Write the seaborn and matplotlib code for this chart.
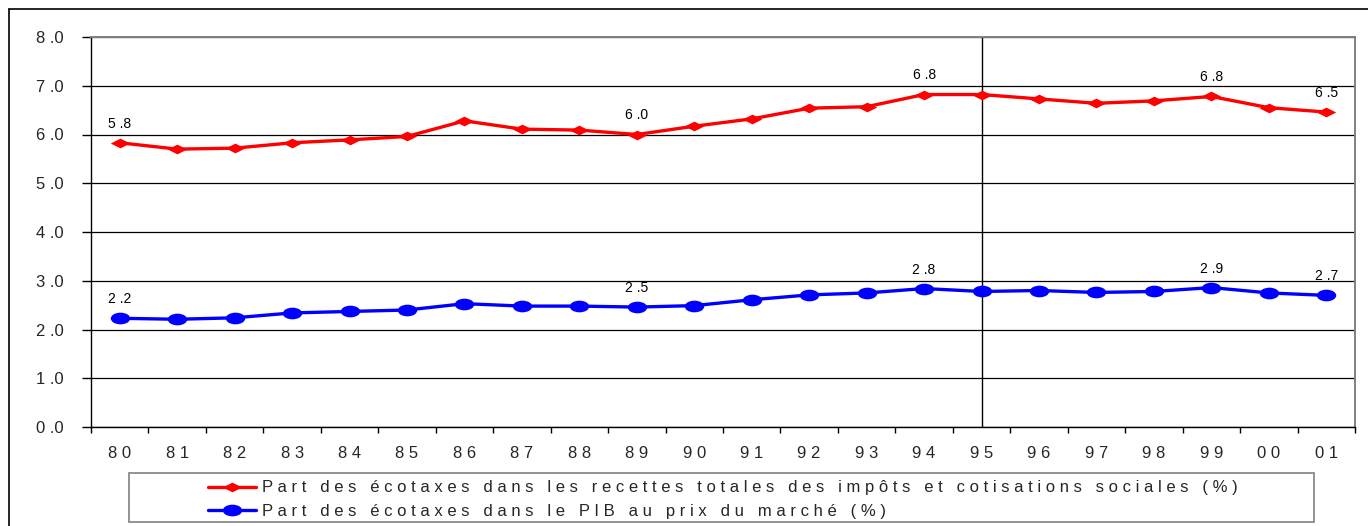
import numpy as np
import pandas as pd
import matplotlib
matplotlib.use("Agg")
import matplotlib.pyplot as plt
from matplotlib.path import Path
from matplotlib.transforms import Affine2D
from matplotlib.patches import Rectangle
from matplotlib.lines import Line2D
import seaborn as sns

# ---- data ----
years = ["80", "81", "82", "83", "84", "85", "86", "87", "88", "89", "90",
         "91", "92", "93", "94", "95", "96", "97", "98", "99", "00", "01"]
share_taxes = [5.83, 5.70, 5.72, 5.83, 5.89, 5.96, 6.28, 6.11, 6.09, 6.00, 6.17,
               6.32, 6.54, 6.57, 6.82, 6.82, 6.73, 6.64, 6.69, 6.78, 6.55, 6.46]
share_gdp = [2.23, 2.21, 2.24, 2.34, 2.37, 2.40, 2.53, 2.48, 2.48, 2.46, 2.49,
             2.61, 2.71, 2.75, 2.84, 2.78, 2.80, 2.76, 2.78, 2.86, 2.75, 2.70]
label_taxes = "Part des écotaxes dans les recettes totales des impôts et cotisations sociales (%)"
label_gdp = "Part des écotaxes dans le PIB au prix du marché (%)"
labelled_years = ["80", "89", "94", "99", "01"]
y_ticks = [0, 1, 2, 3, 4, 5, 6, 7, 8]
split_year = "95"

def spaced(s):
    return " ".join(s).replace(" . ", " .")

sns.set_style("white")
plt.rcParams["font.family"] = ["Liberation Sans", "DejaVu Sans"]

fig = plt.figure(figsize=(13.68, 5.26), dpi=100)
ax = fig.add_axes([91/1368, 1-427/526, (1355-91)/1368, (427-37)/526])

df = pd.DataFrame({"year": years, "taxes": share_taxes, "gdp": share_gdp})

diamond = Path([(-1, 0), (0, 0.5), (1, 0), (0, -0.5), (-1, 0)],
               [Path.MOVETO, Path.LINETO, Path.LINETO, Path.LINETO, Path.CLOSEPOLY])
ellipse = Path.unit_circle().transformed(Affine2D().scale(1, 0.6))

sns.lineplot(data=df, x="year", y="taxes", ax=ax, color="#FF0000", lw=2.4,
             marker=diamond, markersize=14, markeredgewidth=0,
             label=label_taxes, sort=False)
sns.lineplot(data=df, x="year", y="gdp", ax=ax, color="#0000FF", lw=2.4,
             marker=ellipse, markersize=14, markeredgewidth=0,
             label=label_gdp, sort=False)

handles, labels = ax.get_legend_handles_labels()
ax.get_legend().remove()

# data labels
for yr in labelled_years:
    i = years.index(yr)
    for vals in (share_taxes, share_gdp):
        ax.annotate(spaced(f"{vals[i]:.1f}"), (i, vals[i]), xytext=(0, 13.7),
                    textcoords="offset points", ha="center", va="center",
                    fontsize=10, color="black")

ax.axvline(years.index(split_year), color="black", lw=1.0, zorder=1)

ax.set_xlim(-0.5, len(years) - 0.5)
ax.set_ylim(0, 8)
ax.set_yticks(y_ticks)
ax.set_yticklabels([spaced(f"{v:.1f}") for v in y_ticks], fontsize=12)
ax.set_xticks(range(len(years)))
ax.set_xticklabels([spaced(y) for y in years], fontsize=12)
ax.set_xticks(np.arange(-0.5, len(years)), minor=True)
ax.tick_params(axis="x", which="major", length=0, pad=14)
ax.tick_params(axis="x", which="minor", length=4.5, width=1, color="black", direction="out", bottom=True)
ax.tick_params(axis="y", length=6.5, width=1, color="black", direction="out", pad=13, left=True)
ax.set_xlabel("")
ax.set_ylabel("")
ax.grid(axis="y", color="black", lw=0.9)
ax.grid(axis="x", visible=False)
ax.set_axisbelow(True)
for s in ("left", "bottom"):
    ax.spines[s].set_color("black")
    ax.spines[s].set_linewidth(1.0)
for s in ("top", "right"):
    ax.spines[s].set_color("#808080")
    ax.spines[s].set_linewidth(1.4)

# outer frame
fig.add_artist(Line2D([9/1368, 9/1368], [0, 1-9/526], transform=fig.transFigure, color="black", lw=1.2))
fig.add_artist(Line2D([9/1368, 1], [1-9/526, 1-9/526], transform=fig.transFigure, color="black", lw=1.2))

# legend box
fig.add_artist(Rectangle((129/1368, 1-522/526), (1314-129)/1368, 49/526,
                         transform=fig.transFigure, fill=False, edgecolor="#808080", lw=1.2))
fig.legend(handles, [spaced(l) for l in labels], loc="center",
           bbox_to_anchor=(723/1368, 1-499.5/526), frameon=False, fontsize=12,
           handlelength=2.9, handletextpad=0.35, labelspacing=0.5, borderpad=0)

fig.savefig("out.png", dpi=100)
